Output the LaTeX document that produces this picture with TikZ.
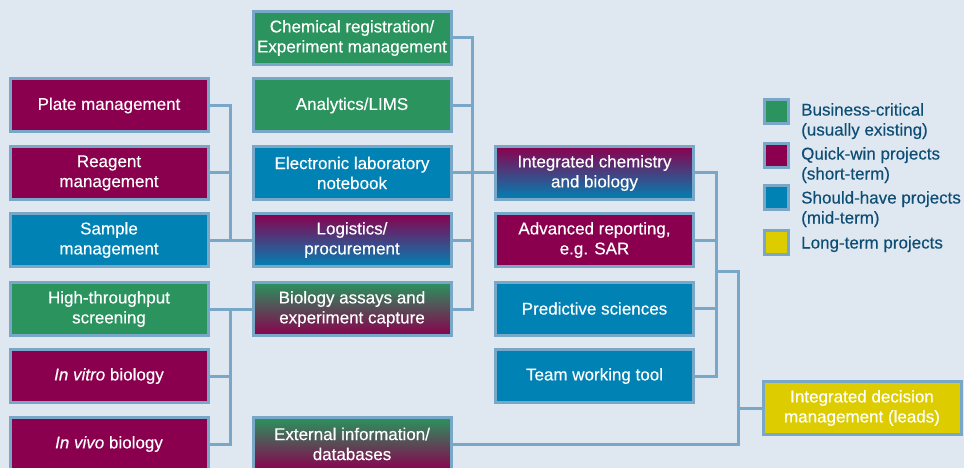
\documentclass[tikz,border=0pt]{standalone}
\usepackage{fontspec}
\setmainfont{Liberation Sans}[FakeBold=0.35]
\usetikzlibrary{positioning}
\definecolor{bgblue}{HTML}{DFE8F1}
\definecolor{edge}{HTML}{79A7C7}
\definecolor{critgreen}{HTML}{2A935E}
\definecolor{quickpurple}{HTML}{8A004E}
\definecolor{shouldblue}{HTML}{0082B4}
\definecolor{longyellow}{HTML}{DCCC00}
\definecolor{legendtext}{HTML}{0F4E74}

\begin{document}
\begin{tikzpicture}[x=1pt,y=-1pt,
  projbox/.style={draw=edge, line width=3pt, minimum width=198pt, minimum height=53pt,
    inner sep=0pt, text=white, align=center, font=\fontsize{17}{20}\selectfont},
  wire/.style={draw=edge, line width=3pt},
  legsq/.style={draw=edge, line width=3pt, minimum size=24pt, inner sep=0pt},
  legtext/.style={anchor=north west, inner sep=0pt, align=left, text=legendtext,
    font=\fontsize{17}{20}\selectfont}]
\useasboundingbox (0,0) rectangle (964,468);
\fill[bgblue] (0,0) rectangle (964,468);

% left column
\node[projbox, fill=quickpurple] (plate) at (109,105.5) {Plate management};
\node[projbox, fill=quickpurple] (reagent) at (109,173) {Reagent\\management};
\node[projbox, fill=shouldblue] (sample) at (109,240) {Sample\\management};
\node[projbox, fill=critgreen] (hts) at (109,309) {High-throughput\\screening};
\node[projbox, fill=quickpurple] (invitro) at (109,376) {\textit{In vitro} biology};
\node[projbox, fill=quickpurple] (invivo) at (109,444) {\textit{In vivo} biology};

% middle column
\node[projbox, fill=critgreen] (chemreg) at (352,38) {Chemical registration/\\Experiment management};
\node[projbox, fill=critgreen] (analytics) at (352,105.5) {Analytics/LIMS};
\node[projbox, fill=shouldblue] (eln) at (352,173) {Electronic laboratory\\notebook};
\node[projbox, top color=quickpurple, bottom color=shouldblue] (logistics) at (352,240) {Logistics/\\procurement};
\node[projbox, top color=critgreen, bottom color=quickpurple] (assays) at (352,309) {Biology assays and\\experiment capture};
\node[projbox, top color=critgreen, bottom color=quickpurple] (external) at (352,444) {External information/\\databases};

% right column
\node[projbox, top color=quickpurple, bottom color=shouldblue] (intchem) at (594.5,173) {Integrated chemistry\\and biology};
\node[projbox, fill=quickpurple] (advreport) at (594.5,240) {Advanced reporting,\\e.g. SAR};
\node[projbox, fill=shouldblue] (predictive) at (594.5,308.5) {Predictive sciences};
\node[projbox, fill=shouldblue] (teamtool) at (594.5,376) {Team working tool};
\node[projbox, fill=longyellow] (decision) at (862,408) {Integrated decision\\management (leads)};

% legend
\node[legsq, fill=critgreen] (keycrit) at (776.5,111.5) {};
\node[legsq, fill=quickpurple] (keyquick) at (776.5,155.5) {};
\node[legsq, fill=shouldblue] (keyshould) at (776.5,197.5) {};
\node[legsq, fill=longyellow] (keylong) at (776.5,242) {};
\node[legtext] (txtcrit) at (801,103) {Business-critical\\(usually existing)};
\node[legtext] (txtquick) at (801,147) {Quick-win projects\\(short-term)};
\node[legtext] (txtshould) at (801,191) {Should-have projects\\(mid-term)};
\node[legtext] (txtlong) at (801,236) {Long-term projects};

% connectors
\coordinate (jA) at (230,240);
\coordinate (jB) at (230,309);
\coordinate (jC) at (472,173);
\coordinate (jD) at (716,271);
\coordinate (jE) at (738,408);
\draw[wire] (plate.east) -| (jA);
\draw[wire] (reagent.east) -- (reagent.east -| jA);
\draw[wire] (sample.east) -- (logistics.west);
\draw[wire] (invivo.east) -| (jB);
\draw[wire] (invitro.east) -- (invitro.east -| jB);
\draw[wire] (hts.east) -- (assays.west);
\draw[wire] (chemreg.east) -| (jC) |- (assays.east);
\draw[wire] (analytics.east) -- (analytics.east -| jC);
\draw[wire] (logistics.east) -- (logistics.east -| jC);
\draw[wire] (eln.east) -- (intchem.west);
\draw[wire] (intchem.east) -| (jD) |- (teamtool.east);
\draw[wire] (advreport.east) -- (advreport.east -| jD);
\draw[wire] (predictive.east) -- (predictive.east -| jD);
\draw[wire] (jD) -| (jE) |- (external.east);
\draw[wire] (jE) -- (decision.west);
\end{tikzpicture}
\end{document}
